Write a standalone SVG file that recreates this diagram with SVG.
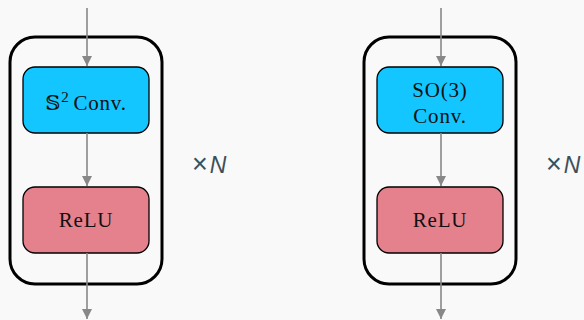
<svg xmlns="http://www.w3.org/2000/svg" width="584" height="320" viewBox="0 0 584 320">
<style>
.bg{fill:#f9f9f9}
.outer{fill:none;stroke:#000;stroke-width:3}
.conv{fill:#13c6ff;stroke:#000;stroke-width:1.3}
.relu{fill:#e5808d;stroke:#000;stroke-width:1.3}
.lbl{font-family:"Liberation Serif","DejaVu Serif",serif;font-size:21px;letter-spacing:0.8px;fill:#111;text-anchor:middle}
.dbl{font-family:"DejaVu Serif","DejaVu Sans",serif}
.rep{font-family:"Liberation Sans","DejaVu Sans",sans-serif;font-size:23px;fill:#3d4f58}
.edge{stroke:#888;stroke-width:1.6;fill:none;marker-end:url(#ah)}
</style>
<defs>
<marker id="ah" viewBox="0 0 10 12" refX="10" refY="6" markerWidth="10" markerHeight="12" markerUnits="userSpaceOnUse" orient="auto">
<path d="M0,1 L10,6 L0,11 Z" fill="#888"/>
</marker>
</defs>
<rect class="bg" x="0" y="0" width="584" height="320"/>
<g id="block1">
<rect class="outer" x="10" y="37" width="152" height="247" rx="25"/>
<text class="rep" x="192" y="173"><tspan font-size="27" font-weight="300">×</tspan><tspan dx="2" font-style="italic">N</tspan></text>
</g>
<g id="s2conv">
<rect class="conv" x="23" y="67" width="126" height="66" rx="12"/>
<text class="lbl" x="86" y="110"><tspan class="dbl">𝕊</tspan><tspan font-size="15" dy="-8">2</tspan><tspan dy="8" dx="4">Conv.</tspan></text>
</g>
<g id="relu1">
<rect class="relu" x="23" y="187" width="126" height="66" rx="12"/>
<text class="lbl" x="86" y="227">ReLU</text>
</g>
<g id="block2">
<rect class="outer" x="364" y="37" width="152" height="247" rx="25"/>
<text class="rep" x="546" y="173"><tspan font-size="27" font-weight="300">×</tspan><tspan dx="2" font-style="italic">N</tspan></text>
</g>
<g id="so3conv">
<rect class="conv" x="377" y="67" width="126" height="66" rx="12"/>
<text class="lbl" x="440" y="97">SO(3)</text>
<text class="lbl" x="440" y="123">Conv.</text>
</g>
<g id="relu2">
<rect class="relu" x="377" y="187" width="126" height="66" rx="12"/>
<text class="lbl" x="440" y="227">ReLU</text>
</g>
<g id="connectors">
<line class="edge" x1="87" y1="8" x2="87" y2="66"/>
<line class="edge" x1="87" y1="133" x2="87" y2="186"/>
<line class="edge" x1="87" y1="253" x2="87" y2="319"/>
<line class="edge" x1="441" y1="8" x2="441" y2="66"/>
<line class="edge" x1="441" y1="133" x2="441" y2="186"/>
<line class="edge" x1="441" y1="253" x2="441" y2="319"/>
</g>
</svg>
